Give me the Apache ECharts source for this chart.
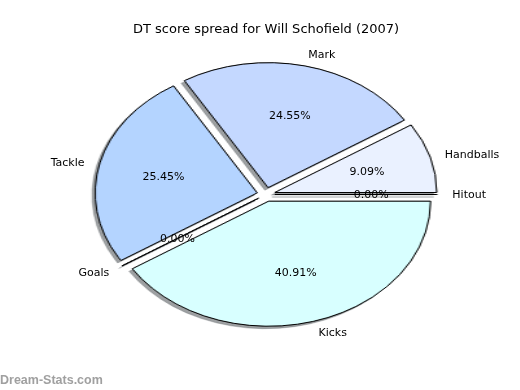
<!DOCTYPE html>
<html>
<head>
<meta charset="utf-8">
<script src="https://cdn.jsdelivr.net/npm/echarts@6/dist/echarts.min.js"></script>
<style>
  html, body { margin: 0; padding: 0; background: #fff; }
  #wrap { position: relative; width: 520px; height: 390px; overflow: hidden; }
  #pie { position: absolute; left: 0; top: 0; width: 401px; height: 390px;
         transform: scaleX(1.296); transform-origin: 0 0; }
  #txt { position: absolute; left: 0; top: 0; width: 520px; height: 390px; }
</style>
</head>
<body>
<div id="wrap"><div id="pie"></div><div id="txt"></div></div>
<script>
// ---- data ----
var categories = ['Handballs', 'Mark', 'Tackle', 'Goals', 'Kicks', 'Hitout'];
var values = [10, 27, 28, 0, 45, 0];
var sliceColors = ['#eaf1ff', '#c4d8ff', '#b4d4ff', '#ffffff', '#d8ffff', '#ffffff'];
var titleText = 'DT score spread for Will Schofield (2007)';
var watermark = 'Dream-Stats.com';

// ---- geometry (matplotlib-like elliptical pie) ----
var K = 1.296;          // horizontal stretch (ellipse aspect)
var CX = 266, CY = 194.5, R = 125;
var EXPLODE = 0.05;

function pieData() {
  return categories.map(function (c, i) {
    return { name: c, value: values[i], selected: true };
  });
}

var basePie = {
  type: 'pie',
  silent: true,
  center: [CX / K, CY],
  radius: [0, R],
  startAngle: 0,
  clockwise: false,
  selectedMode: 'multiple',
  selectedOffset: 7,
  avoidLabelOverlap: false,
  label: { show: false },
  labelLine: { show: false },
  emphasis: { disabled: true }
};

var pieChart = echarts.init(document.getElementById('pie'), null, { renderer: 'canvas' });
pieChart.setOption({
  animation: false,
  color: sliceColors,
  series: [
    Object.assign({}, basePie, {
      z: 1,
      itemStyle: {
        color: 'rgba(255,255,255,1)',
        borderColor: 'rgba(60,66,70,0.5)',
        borderWidth: 1,
        shadowColor: 'rgba(60,66,70,0.5)',
        shadowBlur: 0,
        shadowOffsetX: -2.5,
        shadowOffsetY: 2.5
      },
      data: pieData()
    }),
    Object.assign({}, basePie, {
      z: 2,
      itemStyle: { borderColor: '#000', borderWidth: 1 },
      data: pieData()
    })
  ]
});

function stretchLayout(params) {
  var r = params.labelRect;
  var ax;
  if (params.align === 'left') ax = r.x;
  else if (params.align === 'right') ax = r.x + r.width;
  else ax = r.x + r.width / 2;
  return {
    x: CX + K * (ax - CX),
    y: r.y + r.height / 2 + 1,
    align: params.align,
    verticalAlign: 'middle'
  };
}

var labelData = categories.map(function (c, i) { return { name: c, value: values[i] }; });
var font = { fontFamily: 'DejaVu Sans', fontSize: 11, color: '#000' };

var txtChart = echarts.init(document.getElementById('txt'), null, { renderer: 'canvas' });
txtChart.setOption({
  animation: false,
  title: {
    text: titleText,
    left: 133,
    top: 23.5,
    padding: 0,
    textStyle: { fontFamily: 'DejaVu Sans', fontSize: 13, fontWeight: 'normal', color: '#000' }
  },
  graphic: [{
    type: 'text',
    left: 0,
    top: 374.5,
    style: { text: watermark, fontFamily: 'Liberation Sans', fontSize: 12.5, fontWeight: 'bold', fill: '#a0a0a0' }
  }],
  series: [{
    type: 'pie',
    silent: true,
    center: [CX, CY],
    radius: [0, R],
    startAngle: 0,
    clockwise: false,
    avoidLabelOverlap: false,
    itemStyle: { color: 'rgba(0,0,0,0)', borderWidth: 0 },
    label: Object.assign({ show: true, position: 'outside', formatter: '{b}', distanceToLabelLine: 0 }, font),
    labelLine: { show: false, length: (EXPLODE + 0.1) * R, length2: 0 },
    labelLayout: stretchLayout,
    emphasis: { disabled: true },
    data: labelData
  }, {
    type: 'pie',
    silent: true,
    center: [CX, CY],
    radius: [(EXPLODE + 0.6) * R - 3.25, (EXPLODE + 0.6) * R - 2.75],
    startAngle: 0,
    clockwise: false,
    avoidLabelOverlap: false,
    itemStyle: { color: 'rgba(0,0,0,0)', borderWidth: 0 },
    label: Object.assign({
      show: true, position: 'inside',
      formatter: function (p) { return p.percent.toFixed(2) + '%'; }
    }, font),
    labelLine: { show: false },
    labelLayout: stretchLayout,
    emphasis: { disabled: true },
    data: labelData
  }]
});
</script>
</body>
</html>
